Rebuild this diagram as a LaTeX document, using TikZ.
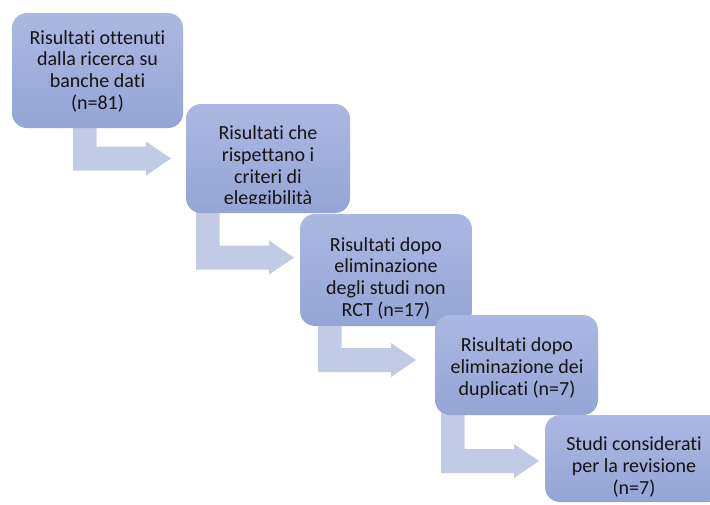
\documentclass[tikz,border=0pt]{standalone}
\usepackage{fontspec}
\setmainfont{Carlito}[Ligatures={NoCommon}]
\definecolor{boxtop}{RGB}{171,184,226}
\definecolor{boxbot}{RGB}{148,165,213}
\definecolor{arrowfill}{RGB}{193,203,230}
\definecolor{txt}{RGB}{20,20,20}
\newcommand\bentarrowshape[3]{% #1 stem left x, #2 stem top y, #3 band bottom y, tip x = #1 + 98
  \fill[flowarrow] (#1,#2) -- (#1,#3) -- ({#1+73},#3) -- ({#1+73},{#3+5}) -- ({#1+98},{#3-12})
    -- ({#1+73},{#3-29}) -- ({#1+73},{#3-24}) -- ({#1+23.5},{#3-24}) -- ({#1+23.5},#2) -- cycle;}
\begin{document}
\begin{tikzpicture}[x=1pt,y=-1pt,
  stepbox/.style={rectangle, rounded corners=15pt, top color=boxtop, bottom color=boxbot,
    draw=none, inner sep=0pt},
  steptext/.style={align=center, text=txt, inner sep=0pt, font=\fontsize{20}{21.7}\selectfont},
  flowarrow/.style={fill=arrowfill}]
\clip (0,0) rectangle (710,504);
% bent arrows (behind boxes)
\bentarrowshape{73}{115}{170.5}
\bentarrowshape{196}{200}{269.5}
\bentarrowshape{318}{315}{372}
\bentarrowshape{441}{405}{473}
% boxes
\node[stepbox, minimum width=171pt, minimum height=115pt] (b1) at (97.5,70.5) {};
\node[stepbox, minimum width=164pt, minimum height=109pt] (b2) at (268,158.5) {};
\node[stepbox, minimum width=172pt, minimum height=112pt] (b3) at (386,270) {};
\node[stepbox, minimum width=163pt, minimum height=100pt] (b4) at (516.5,365) {};
\node[stepbox, minimum width=178pt, minimum height=87pt] (b5) at (634,458.5) {};
% texts
\node[steptext] (t1) at (97.5,71) {Risultati ottenuti\\dalla ricerca su\\banche dati\\(n=81)};
\begin{scope}
\clip (186,104) rectangle (350,203);
\node[steptext] (t2) at (268,167) {Risultati che\\rispettano i\\criteri di\\eleggibilità};
\end{scope}
\node[steptext] (t3) at (386,278) {Risultati dopo\\eliminazione\\degli studi non\\RCT (n=17)};
\node[steptext] (t4) at (517,368) {Risultati dopo\\eliminazione dei\\duplicati (n=7)};
\node[steptext] (t5) at (634,467) {Studi considerati\\per la revisione\\(n=7)};
\end{tikzpicture}
\end{document}
